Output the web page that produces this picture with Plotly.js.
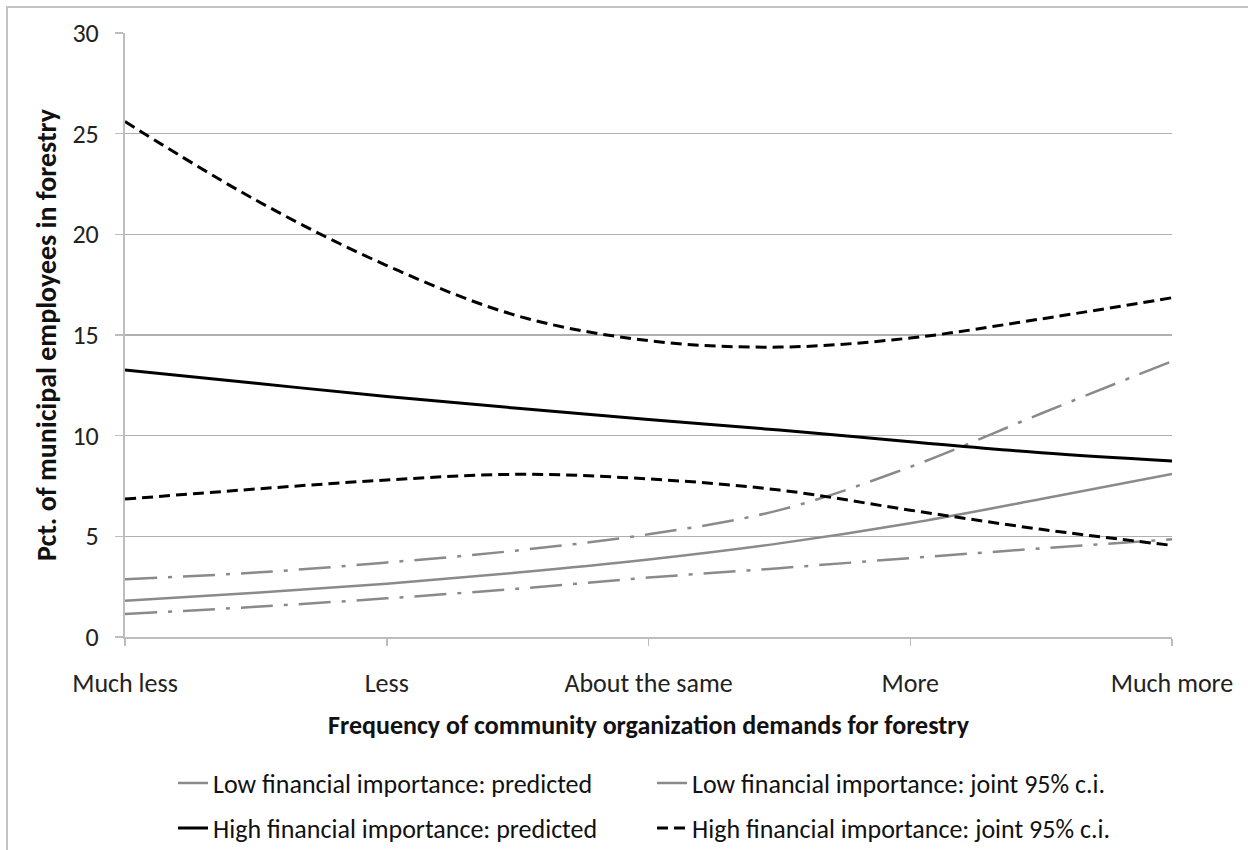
<!DOCTYPE html>
<html>
<head>
<meta charset="utf-8">
<script src="https://cdn.plot.ly/plotly-3.0.1.min.js"></script>
<style>
  html, body { margin: 0; padding: 0; background: #ffffff; overflow: hidden; }
  #frame { position: absolute; left: 6px; top: 6px; width: 1400px; height: 1000px;
           border: 2px solid #c3c3c3; box-sizing: border-box; }
  #chart { position: absolute; left: 0; top: 0; width: 1248px; height: 850px; }
</style>
</head>
<body>
<div id="frame"></div>
<div id="chart"></div>
<script>
// Response categories on the horizontal axis
const categories = ['Much less', 'Less', 'About the same', 'More', 'Much more'];
// Positions along the category scale where each curve was evaluated
const xPoints = [0, 0.5, 1, 1.5, 2, 2.5, 3, 3.5, 4];

// Low financial importance
const lowPredicted = [1.8, 2.2, 2.65, 3.2, 3.85, 4.65, 5.65, 6.85, 8.1];
const lowCiUpper   = [2.87, 3.2, 3.7, 4.3, 5.1, 6.3, 8.45, 11.1, 13.7];
const lowCiLower   = [1.14, 1.5, 1.92, 2.4, 2.95, 3.42, 3.92, 4.4, 4.85];

// High financial importance
const highPredicted = [13.26, 12.6, 11.95, 11.36, 10.8, 10.28, 9.7, 9.15, 8.74];
const highCiUpper   = [25.6, 21.7, 18.45, 15.95, 14.72, 14.4, 14.85, 15.8, 16.85];
const highCiLower   = [6.85, 7.35, 7.8, 8.08, 7.85, 7.3, 6.3, 5.35, 4.55];

const yTicks = [0, 5, 10, 15, 20, 25, 30];

const FONT = 'Carlito, Calibri, "Open Sans", sans-serif';
const GRAY = '#8a8a8a';
const BLACK = '#000000';
const dashDot = '32px,11px,4px,11px';
const dashed = '11px,6px';

function line(y, name, color, width, dash, legend, show, group) {
  return {
    x: xPoints, y: y, name: name, type: 'scatter', mode: 'lines',
    line: { color: color, width: width, dash: dash, shape: 'spline', smoothing: 1 },
    legend: legend, showlegend: show, legendgroup: group, hoverinfo: 'skip'
  };
}

const traces = [
  line(lowPredicted, 'Low financial importance: predicted', GRAY, 2.5, 'solid', 'legend', true, 'lp'),
  line(lowCiUpper, 'Low financial importance: joint 95% c.i.', GRAY, 2.5, dashDot, 'legend', true, 'lc'),
  line(lowCiLower, 'Low financial importance: joint 95% c.i.', GRAY, 2.5, dashDot, 'legend', false, 'lc'),
  line(highPredicted, 'High financial importance: predicted', BLACK, 3, 'solid', 'legend2', true, 'hp'),
  line(highCiUpper, 'High financial importance: joint 95% c.i.', BLACK, 3, dashed, 'legend2', true, 'hc'),
  line(highCiLower, 'High financial importance: joint 95% c.i.', BLACK, 3, dashed, 'legend2', false, 'hc')
];

const legendBase = {
  orientation: 'h', xref: 'container', yref: 'container',
  xanchor: 'left', yanchor: 'middle',
  font: { family: FONT, size: 26, color: '#111111' },
  bgcolor: 'rgba(0,0,0,0)', borderwidth: 0,
  entrywidth: 434, entrywidthmode: 'pixels', itemwidth: 30,
  traceorder: 'normal'
};

const layout = {
  width: 1248, height: 850,
  paper_bgcolor: 'rgba(0,0,0,0)', plot_bgcolor: 'rgba(0,0,0,0)',
  margin: { l: 125, r: 76, t: 33, b: 213 },
  font: { family: FONT, color: '#222222' },
  xaxis: {
    range: [0, 4], tickmode: 'array', tickvals: [0, 1, 2, 3, 4], ticktext: categories,
    showgrid: false, zeroline: false, showline: true, linecolor: '#bdbdbd', linewidth: 2,
    ticks: 'outside', ticklen: 7, tickcolor: '#bdbdbd', tickwidth: 1.5,
    ticklabelstandoff: 15,
    tickfont: { family: FONT, size: 26, color: '#222222' },
    title: { text: '<b>Frequency of community organization demands for forestry</b>',
             font: { family: FONT, size: 26, color: '#111111' }, standoff: 18 }
  },
  yaxis: {
    range: [0, 30], tickmode: 'array', tickvals: yTicks,
    showgrid: true, gridcolor: '#b0b0b0', gridwidth: 1.5,
    zeroline: false, showline: true, linecolor: '#bdbdbd', linewidth: 2,
    ticks: 'outside', ticklen: 8, tickcolor: '#bdbdbd', tickwidth: 1.5,
    ticklabelstandoff: 11,
    tickfont: { family: FONT, size: 26, color: '#222222' },
    title: { text: '<b>Pct. of municipal employees in forestry</b>',
             font: { family: FONT, size: 28, color: '#111111' }, standoff: 8 }
  },
  legend: Object.assign({}, legendBase, { x: 173 / 1248, y: 1 - 783 / 850 }),
  legend2: Object.assign({}, legendBase, { x: 173 / 1248, y: 1 - 828 / 850 }),
  showlegend: true
};

Plotly.newPlot('chart', traces, layout, { displayModeBar: false, staticPlot: true });
</script>
</body>
</html>
